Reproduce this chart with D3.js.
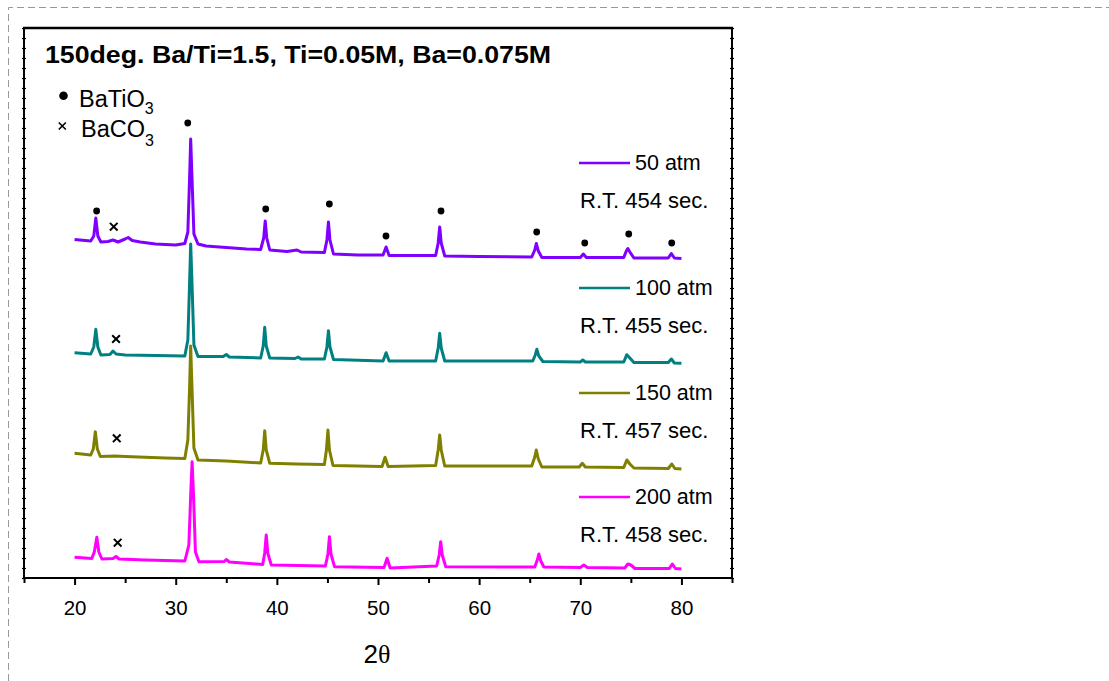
<!DOCTYPE html>
<html lang="en">

<head>
    <meta charset="UTF-8">
    <title>XRD patterns - 150deg. Ba/Ti=1.5</title>
    <script src="https://d3js.org/d3.v7.min.js"></script>
    <style>
        body {
            margin: 0;
            padding: 0;
            background: #fff;
        }
        svg text {
            font-family: 'Liberation Sans', Arial, sans-serif;
            fill: #000;
        }
    </style>
</head>

<body>
    <div id="chart"></div>

    <script>
        // 2theta / intensity (a.u., curves already offset)
        const atm50 = [
            [20.0, 338.5], [21.6, 337], [21.9, 342], [22.1, 360], [22.3, 342], [22.6, 336],
            [23.3, 336.5], [23.8, 338], [24.3, 336], [25.0, 339], [25.3, 340.5], [25.7, 337.5],
            [26.5, 336], [28, 334], [30, 333], [30.9, 334.5], [31.2, 346], [31.38, 403],
            [31.48, 439], [31.6, 403], [31.8, 344], [32.2, 334], [33, 332], [35, 330.5],
            [37, 329], [38.4, 328.5], [38.7, 340], [38.85, 357], [39.0, 340], [39.3, 328],
            [41, 326.5], [42.0, 328], [42.4, 326], [44.7, 325.5], [44.95, 338], [45.1, 356],
            [45.25, 338], [45.6, 324], [48, 323], [50.5, 323], [50.8, 331], [51.1, 322.5],
            [53, 322.5], [55.7, 322.5], [55.95, 335], [56.1, 351], [56.25, 335], [56.6, 322],
            [60, 321.5], [65.2, 321], [65.5, 328], [65.65, 334.5], [65.85, 327], [66.2, 320.5],
            [70.0, 320.5], [70.3, 324], [70.6, 320.5], [74.3, 320.5], [74.55, 327], [74.7, 329.5],
            [74.9, 326], [75.3, 320], [78.7, 320], [79.0, 324.5], [79.3, 320], [80, 319.5]
        ];
        const atm100 = [
            [20.0, 225.3], [21.6, 224], [21.9, 231], [22.1, 248.7], [22.3, 231], [22.6, 223],
            [23.5, 223.5], [23.8, 227], [24.1, 224], [25, 223], [28, 222.5], [30.9, 222],
            [31.2, 238], [31.38, 298], [31.48, 334], [31.6, 298], [31.8, 233], [32.2, 221.5],
            [34.7, 221.5], [35.0, 223.5], [35.3, 221], [38.4, 220], [38.65, 232], [38.8, 250.7],
            [38.95, 232], [39.3, 220], [41.8, 219.5], [42.1, 221], [42.4, 219], [44.7, 219],
            [44.95, 231], [45.1, 247.3], [45.25, 231], [45.6, 218.5], [50.5, 217], [50.8, 225.3],
            [51.1, 217], [55.7, 217], [55.95, 230], [56.1, 244.7], [56.25, 230], [56.6, 217],
            [65.3, 217], [65.55, 223], [65.7, 228.7], [65.9, 222], [66.3, 216.5], [70.0, 216],
            [70.25, 218], [70.5, 216], [74.3, 216], [74.6, 223.3], [74.9, 220], [75.3, 215.5],
            [78.7, 215.5], [79.0, 219], [79.3, 215], [80, 214.7]
        ];
        const atm150 = [
            [20.0, 124.7], [21.6, 123], [21.85, 129], [22.05, 146.3], [22.25, 129], [22.55, 121.5],
            [24, 122], [25, 121.5], [27, 120.7], [29, 120], [30.9, 119.5], [31.2, 138],
            [31.38, 193], [31.48, 232], [31.6, 193], [31.8, 130], [32.2, 118], [35, 117],
            [38.4, 115], [38.65, 128], [38.8, 147.3], [38.95, 128], [39.3, 114.7], [42, 114],
            [44.7, 113.5], [44.9, 128], [45.05, 148], [45.2, 128], [45.55, 112.5], [50.4, 111.5],
            [50.7, 120.7], [51.0, 111.5], [55.7, 112.5], [55.95, 128], [56.1, 143], [56.25, 128],
            [56.6, 112], [65.2, 112], [65.5, 121], [65.65, 128], [65.85, 119], [66.2, 111],
            [69.9, 111], [70.2, 114.7], [70.5, 111], [74.3, 110.5], [74.6, 118], [74.9, 114],
            [75.3, 110], [78.7, 109.5], [79.05, 114], [79.35, 109.5], [80, 109]
        ];
        const atm200 = [
            [20.0, 20.7], [21.7, 19.5], [21.95, 26], [22.2, 40.7], [22.4, 26], [22.7, 19],
            [23.8, 19.5], [24.1, 21.5], [24.4, 19], [27, 18], [30.9, 17], [31.3, 33],
            [31.5, 88], [31.62, 116.3], [31.74, 88], [31.95, 26], [32.3, 16.3], [34.8, 16.5],
            [35.0, 18.5], [35.3, 16], [38.6, 13.5], [38.8, 25], [38.95, 43], [39.1, 25],
            [39.45, 13], [44.8, 12], [45.05, 24], [45.2, 41.3], [45.35, 24], [45.7, 11.3],
            [50.6, 10.5], [50.9, 19.7], [51.2, 10], [55.8, 12], [56.05, 23], [56.2, 36.3],
            [56.35, 23], [56.7, 11.3], [65.5, 11], [65.75, 18], [65.9, 24], [66.1, 17],
            [66.4, 11], [70.0, 10.5], [70.35, 13], [70.7, 10.5], [74.4, 10], [74.7, 14],
            [75.0, 13], [75.4, 9.5], [78.8, 9.5], [79.1, 14], [79.4, 9.5], [80, 9]
        ];

        const seriesNames = ['50 atm', '100 atm', '150 atm', '200 atm'];
        const retentionLabels = ['R.T. 454 sec.', 'R.T. 455 sec.', 'R.T. 457 sec.', 'R.T. 458 sec.'];
        const seriesColors = ['#8000ff', '#008080', '#808000', '#ff00ff'];
        const seriesData = [atm50, atm100, atm150, atm200];

        // phase markers: BaTiO3 (dots) and BaCO3 (crosses)
        const batio3Marks = [
            [22.18, 367], [31.19, 455], [38.9, 369], [45.19, 374], [50.79, 342],
            [56.23, 367], [65.69, 346], [70.44, 335], [74.79, 344], [79.04, 335]
        ];
        const baco3Marks = [[23.87, 351.3], [24.1, 239], [24.17, 139.7], [24.26, 35.3]];

        const majorTicks = [20, 30, 40, 50, 60, 70, 80];
        const minorTicks = [15, 25, 35, 45, 55, 65, 75, 85];

        const width = 1109;
        const height = 681;
        const plot = { left: 24, right: 732, top: 28, bottom: 578 };

        const svg = d3.select('#chart')
            .append('svg')
            .attr('width', width)
            .attr('height', height)
            .style('display', 'block');

        // dashed outer frame
        svg.append('path')
            .attr('d', `M8.5,${height} V7.5 H${width}`)
            .attr('fill', 'none')
            .attr('stroke', '#999')
            .attr('stroke-width', 1)
            .attr('stroke-dasharray', '7,4');

        const x = d3.scaleLinear().domain([15, 85]).range([plot.left, plot.right]);
        const y = d3.scaleLinear().domain([0, 550]).range([plot.bottom, plot.top]);

        // left / right axes with dense small ticks, no labels
        const yTicks = d3.range(0, 551, 10);
        const leftAxis = svg.append('g')
            .attr('transform', `translate(${plot.left},0)`)
            .call(d3.axisLeft(y).tickValues(yTicks).tickSize(3).tickFormat(''));
        const rightAxis = svg.append('g')
            .attr('transform', `translate(${plot.right},0)`)
            .call(d3.axisRight(y).tickValues(yTicks).tickSize(3).tickFormat(''));
        [leftAxis, rightAxis].forEach(a => {
            a.select('.domain').attr('stroke-width', 2).attr('d', `M0,${plot.top}V${plot.bottom}`);
            a.selectAll('.tick line').attr('x1', -2).attr('x2', 2).attr('stroke-width', 1.2);
        });

        // top frame line
        svg.append('line')
            .attr('x1', plot.left - 1).attr('x2', plot.right + 1)
            .attr('y1', plot.top).attr('y2', plot.top)
            .attr('stroke', '#000')
            .attr('stroke-width', 2.6);

        // bottom axis
        svg.append('g')
            .attr('transform', `translate(0,${plot.bottom})`)
            .call(d3.axisBottom(x).tickValues(minorTicks).tickSize(5).tickSizeOuter(0).tickFormat(''))
            .call(g => g.select('.domain').remove())
            .selectAll('.tick line').attr('stroke-width', 2);

        const xAxis = svg.append('g')
            .attr('transform', `translate(0,${plot.bottom})`)
            .call(d3.axisBottom(x).tickValues(majorTicks).tickSize(7).tickSizeOuter(0).tickPadding(15).tickFormat(d3.format('d')));
        xAxis.select('.domain').attr('stroke-width', 2).attr('d', `M${plot.left - 1},0H${plot.right + 1}`);
        xAxis.selectAll('.tick line').attr('stroke-width', 2);
        xAxis.selectAll('.tick text')
            .style('font-size', '20.5px')
            .style('font-family', "'Liberation Sans', Arial, sans-serif");

        // x axis title: 2θ
        const xTitle = svg.append('text')
            .attr('x', 377)
            .attr('y', 663)
            .attr('text-anchor', 'middle')
            .style('font-size', '26px');
        xTitle.append('tspan').text('2');
        xTitle.append('tspan').style('font-family', "'Liberation Serif', 'DejaVu Serif', serif").text('θ');

        // curves
        const line = d3.line()
            .x(d => x(d[0]))
            .y(d => y(d[1]));

        svg.append('g')
            .selectAll('path')
            .data(seriesData)
            .join('path')
            .attr('d', line)
            .attr('fill', 'none')
            .attr('stroke', (d, i) => seriesColors[i])
            .attr('stroke-width', 3)
            .attr('stroke-linejoin', 'round');

        // phase markers
        svg.append('g')
            .selectAll('circle')
            .data(batio3Marks)
            .join('circle')
            .attr('cx', d => x(d[0]))
            .attr('cy', d => y(d[1]))
            .attr('r', 3.4)
            .attr('fill', '#000');

        const cross = d3.symbol().type(d3.symbolX).size(40);
        svg.append('g')
            .selectAll('path')
            .data(baco3Marks)
            .join('path')
            .attr('transform', d => `translate(${x(d[0])},${y(d[1])})`)
            .attr('d', cross)
            .attr('fill', 'none')
            .attr('stroke', '#000')
            .attr('stroke-width', 2);

        // title
        svg.append('text')
            .attr('x', 45)
            .attr('y', 63)
            .attr('textLength', 506)
            .attr('lengthAdjust', 'spacingAndGlyphs')
            .style('font-size', '24px')
            .style('font-weight', 'bold')
            .text('150deg. Ba/Ti=1.5, Ti=0.05M, Ba=0.075M');

        // phase legend
        svg.append('circle').attr('cx', 63.5).attr('cy', 95.7).attr('r', 4.3).attr('fill', '#000');
        const t1 = svg.append('text').attr('x', 79).attr('y', 106.7).style('font-size', '23.5px');
        t1.append('tspan').text('BaTiO');
        t1.append('tspan').attr('dy', 7.6).style('font-size', '16px').text('3');

        svg.append('path')
            .attr('transform', 'translate(62.3,126)')
            .attr('d', d3.symbol().type(d3.symbolX).size(34))
            .attr('fill', 'none')
            .attr('stroke', '#000')
            .attr('stroke-width', 1.6);
        const t2 = svg.append('text').attr('x', 81).attr('y', 137.3).style('font-size', '23.5px');
        t2.append('tspan').text('BaCO');
        t2.append('tspan').attr('dy', 8.2).style('font-size', '16px').text('3');

        // series legend
        const legendY = [163, 288, 393, 497];
        const legend = svg.append('g')
            .selectAll('g')
            .data(seriesNames)
            .join('g')
            .attr('transform', (d, i) => `translate(0,${legendY[i]})`);

        legend.append('line')
            .attr('x1', 579).attr('x2', 630)
            .attr('y1', 0).attr('y2', 0)
            .attr('stroke', (d, i) => seriesColors[i])
            .attr('stroke-width', 2.6);

        legend.append('text')
            .attr('x', 635)
            .attr('y', 7)
            .style('font-size', '21.5px')
            .text(d => d);

        legend.append('text')
            .attr('x', 580)
            .attr('y', 45.3)
            .style('font-size', '22px')
            .text((d, i) => retentionLabels[i]);
    </script>
</body>

</html>
